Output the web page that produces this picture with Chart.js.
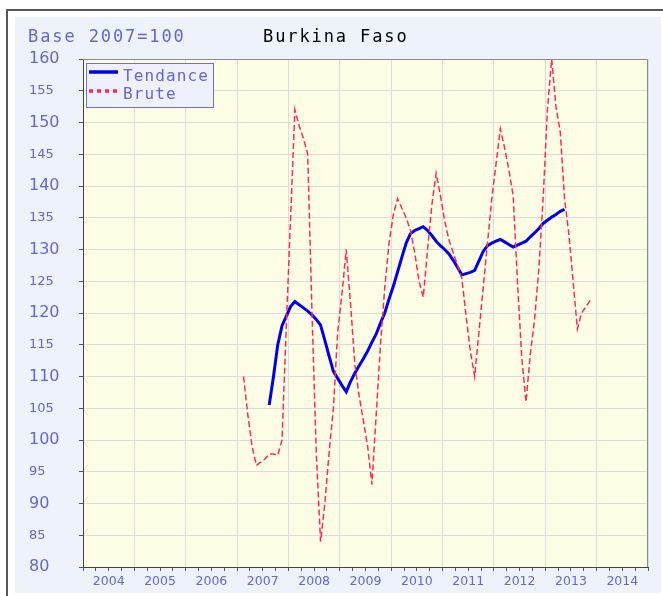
<!DOCTYPE html>
<html lang="fr">
<head>
  <meta charset="UTF-8">
  <title>Burkina Faso - Base 2007=100</title>
  <script src="https://cdn.jsdelivr.net/npm/chart.js"></script>
  <style>
    body, html {
      margin: 0;
      background: #ffffff;
      overflow: hidden;
      width: 663px;
      height: 596px;
    }
    #frame {
      position: absolute;
      left: 6px;
      top: 9px;
      width: 700px;
      height: 700px;
      border-left: 2px solid #555;
      border-top: 2px solid #555;
    }
    #panel {
      position: absolute;
      left: 15px;
      top: 17px;
      width: 646px;
      height: 576px;
    }
  </style>
</head>
<body>
  <div id="frame"></div>
  <div id="panel"><canvas id="chart" width="646" height="576"></canvas></div>

  <script>
    // Monthly index values, base 2007 = 100
    var bruteStart = [2007, 2];   // February 2007
    var bruteValues = [
      110, 104, 99, 96, 96.5, 97, 97.8, 97.8, 97.6, 100, 118,
      135, 152, 149.5, 147.5, 145, 120, 98, 84, 90, 98, 105, 117,
      123, 130, 121.5, 112, 107, 103, 99, 93, 104, 115, 124, 131,
      135.5, 138, 136.5, 135, 133, 129.5, 125, 122.5, 130, 137, 142, 138.5,
      134.5, 131.5, 129.5, 127.5, 125.5, 119.5, 114, 110, 117, 124, 131, 138,
      143.5, 149, 146, 142.5, 138.5, 125, 113, 106, 113.5, 119, 127, 138,
      152, 160, 152.5, 148.5, 138, 132.5, 125, 117.5, 120, 121, 122
    ];

    var trendStart = [2007, 8];   // August 2007
    var trendValues = [
      105.5, 110, 115, 118, 119.5,
      121, 121.8, 121.3, 120.8, 120.3, 119.7, 119, 118.1, 115.7, 113.2, 110.8, 109.7,
      108.6, 107.6, 109.2, 110.5, 111.7, 112.8, 114, 115.4, 116.7, 118.4, 120, 122.2,
      124.2, 126.5, 128.8, 131, 132.5, 133, 133.3, 133.6, 133, 132.2, 131.3, 130.6,
      130, 129.3, 128.3, 127.2, 126, 126.2, 126.4, 126.7, 128.2, 129.7, 130.6, 131,
      131.3, 131.6, 131.2, 130.8, 130.4, 130.7, 131, 131.3, 132, 132.6, 133.3, 134.1,
      134.6, 135.1, 135.5, 136, 136.3
    ];

    var seriesLabels = ['Tendance', 'Brute'];
    var chartTitle = 'Burkina Faso';
    var baseLabel = 'Base 2007=100';
    var yearFrom = 2004;
    var yearTo = 2015;

    var labelBlue = '#6666cc';
    var trendColor = '#0000ee';
    var bruteColor = '#ff2a52';

    // values are plotted in the middle of their month
    function monthlyPoints(start, values) {
      return values.map(function (v, i) {
        var m = start[1] - 1 + i;
        return { x: start[0] + (m + 0.5) / 12, y: v };
      });
    }

    var panelBackground = {
      id: 'panelBackground',
      beforeDraw: function (chart) {
        var ctx = chart.ctx, a = chart.chartArea;
        ctx.save();
        ctx.fillStyle = '#eef2fb';
        ctx.fillRect(0, 0, chart.width, chart.height);
        ctx.fillStyle = '#fdfde6';
        ctx.fillRect(a.left, a.top, a.right - a.left, a.bottom - a.top);
        ctx.restore();
      },
      afterDraw: function (chart) {
        var ctx = chart.ctx, a = chart.chartArea;
        ctx.save();
        // top and right edges of the plot
        ctx.strokeStyle = '#8a8a8a';
        ctx.lineWidth = 1;
        ctx.beginPath();
        ctx.moveTo(a.left, a.top + 0.5);
        ctx.lineTo(a.right - 0.5, a.top + 0.5);
        ctx.lineTo(a.right - 0.5, a.bottom);
        ctx.stroke();

        // titles
        ctx.textBaseline = 'alphabetic';
        ctx.font = '17px "DejaVu Sans Mono"';
        ctx.letterSpacing = '1.9px';
        ctx.fillStyle = labelBlue;
        ctx.fillText(baseLabel, 13, 25);
        ctx.fillStyle = '#000000';
        ctx.fillText(chartTitle, 248, 25);

        // legend box
        var bx = a.left + 3, by = a.top + 4, bw = 127, bh = 44;
        ctx.fillStyle = '#eef0fb';
        ctx.fillRect(bx, by, bw, bh);
        ctx.strokeStyle = '#7070d0';
        ctx.lineWidth = 1;
        ctx.strokeRect(bx + 0.5, by + 0.5, bw, bh);

        var ds = chart.data.datasets;
        ctx.lineWidth = 3.5;
        ctx.strokeStyle = ds[0].borderColor;
        ctx.beginPath();
        ctx.moveTo(bx + 3, by + 9);
        ctx.lineTo(bx + 32, by + 9);
        ctx.stroke();

        ctx.strokeStyle = ds[1].borderColor;
        ctx.setLineDash([4, 4]);
        ctx.beginPath();
        ctx.moveTo(bx + 3, by + 28);
        ctx.lineTo(bx + 32, by + 28);
        ctx.stroke();
        ctx.setLineDash([]);

        ctx.font = '16px "DejaVu Sans Mono"';
        ctx.letterSpacing = '1.1px';
        ctx.fillStyle = labelBlue;
        ctx.fillText(ds[0].label, bx + 37, by + 18);
        ctx.fillText(ds[1].label, bx + 37, by + 36);
        ctx.restore();
      }
    };

    var ctx = document.getElementById('chart').getContext('2d');
    var chart = new Chart(ctx, {
      type: 'line',
      data: {
        datasets: [{
          label: seriesLabels[0],
          data: monthlyPoints(trendStart, trendValues),
          borderColor: trendColor,
          borderWidth: 3,
          pointRadius: 0,
          tension: 0,
          order: 1
        }, {
          label: seriesLabels[1],
          data: monthlyPoints(bruteStart, bruteValues),
          borderColor: bruteColor,
          borderWidth: 1.5,
          borderDash: [6, 3],
          pointRadius: 0,
          tension: 0,
          order: 0
        }]
      },
      options: {
        responsive: false,
        animation: false,
        devicePixelRatio: 1,
        layout: { padding: { left: 14, top: 42, right: 13, bottom: 0 } },
        plugins: {
          legend: { display: false },
          tooltip: { enabled: false }
        },
        scales: {
          x: {
            type: 'linear',
            min: yearFrom,
            max: yearTo,
            afterBuildTicks: function (scale) {
              // quarter ticks, year labels sit mid-year
              var ticks = [];
              for (var q = yearFrom * 4; q <= yearTo * 4; q++) {
                ticks.push({ value: q / 4 });
              }
              scale.ticks = ticks;
            },
            afterFit: function (scale) { scale.height = 26; },
            border: { color: '#444', width: 1 },
            grid: {
              color: function (c) {
                return c.tick && c.tick.value % 1 === 0 ? '#dcdcdc' : 'rgba(0,0,0,0)';
              },
              tickColor: '#555',
              tickLength: 4,
              lineWidth: 1
            },
            ticks: {
              autoSkip: false,
              maxRotation: 0,
              padding: 3,
              color: labelBlue,
              font: { family: 'DejaVu Sans', size: 12.5 },
              callback: function (value) {
                var f = value - Math.floor(value);
                return Math.abs(f - 0.5) < 1e-6 ? String(Math.floor(value)) : '';
              }
            }
          },
          y: {
            min: 80,
            max: 160,
            afterFit: function (scale) { scale.width = 54; },
            border: { color: '#444', width: 1 },
            grid: {
              color: '#dcdcdc',
              tickColor: '#555',
              tickLength: 4,
              lineWidth: 1
            },
            ticks: {
              stepSize: 5,
              crossAlign: 'far',
              color: labelBlue,
              font: function (c) {
                var big = c.tick && c.tick.value % 10 === 0;
                return { family: 'DejaVu Sans', size: big ? 16 : 13 };
              }
            }
          }
        }
      },
      plugins: [panelBackground]
    });
  </script>
</body>
</html>
